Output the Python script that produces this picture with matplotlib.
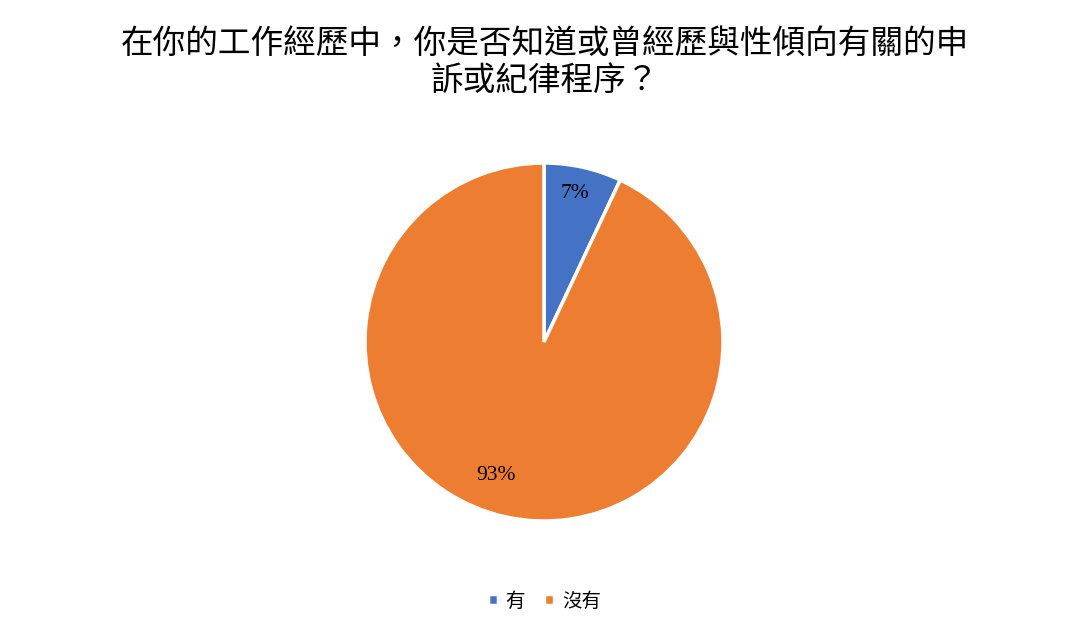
import numpy as np
import matplotlib.pyplot as plt

labels = ['有', '沒有']
values = [7, 93]
colors = ['#4472C4', '#ED7D31']
title = '在你的工作經歷中，你是否知道或曾經歷與性傾向有關的申\n訴或紀律程序？'

plt.rcParams['font.family'] = ['Noto Sans CJK TC', 'DejaVu Sans']

fig = plt.figure(figsize=(10.89, 6.33), dpi=100)
W, H = 1089, 633
cx, cy, r = 544, 342, 179
ax = fig.add_axes([(cx - r) / W, 1 - (cy + r) / H, 2 * r / W, 2 * r / H])

wedges, texts, autotexts = ax.pie(
    values, colors=colors, startangle=90, counterclock=False,
    autopct='%1.0f%%', pctdistance=0.82,
    wedgeprops=dict(edgecolor='white', linewidth=2.5),
    textprops=dict(fontsize=15.5, family='Liberation Serif', color='black'),
)
ax.set_aspect('equal')
ax.set_xlim(-1, 1)
ax.set_ylim(-1, 1)
# label spots as placed in the original
autotexts[0].set_position(((575 - cx) / r, (cy - 193) / r))
autotexts[1].set_position(((496 - cx) / r, (cy - 475) / r))

fig.text(0.5, 1 - 62 / H, title, ha='center', va='center', fontsize=23.5,
         linespacing=1.2)

leg = fig.legend(wedges, labels, loc='center', bbox_to_anchor=(0.5, 1 - 601 / H),
                 ncol=2, frameon=False, fontsize=14, handlelength=0.5,
                 handleheight=0.5, handletextpad=0.4, columnspacing=1.0)

fig.savefig('out.png', dpi=100, facecolor='white')
